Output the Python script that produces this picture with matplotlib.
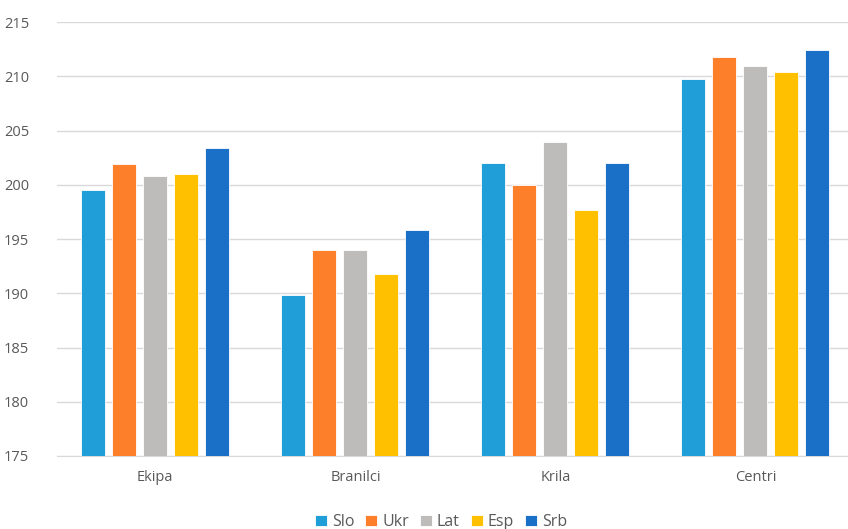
import numpy as np
import matplotlib.pyplot as plt

categories = ["Ekipa", "Branilci", "Krila", "Centri"]
series = ["Slo", "Ukr", "Lat", "Esp", "Srb"]
slo = [199.5, 189.8, 202.0, 209.8]
ukr = [201.9, 194.0, 200.0, 211.8]
lat = [200.8, 194.0, 204.0, 211.0]
esp = [201.0, 191.8, 197.7, 210.4]
srb = [203.4, 195.8, 202.0, 212.4]
colors = ["#1F9ED8", "#FE7F2A", "#BDBCBA", "#FFC000", "#1A70C6"]

plt.rcParams['font.family'] = ['Open Sans', 'DejaVu Sans']

fig = plt.figure(figsize=(8.48, 5.29), dpi=100)
ax = fig.add_axes([0.067, 0.138, 0.933, 0.82])

x = np.arange(len(categories))
width = 0.12
pitch = 0.155
for i, (name, vals) in enumerate(zip(series, [slo, ukr, lat, esp, srb])):
    ax.bar(x + (i - 2) * pitch, np.array(vals) - 175, width, bottom=175,
           color=colors[i], label=name, zorder=3, edgecolor="white", linewidth=0.6)

ax.set_xlim(-0.4925, 3.4625)
ax.set_ylim(175, 215)
ax.set_yticks(range(175, 216, 5))
ax.set_xticks(x)
ax.set_xticklabels(categories)
ax.yaxis.grid(True, color="#D9D9D9", linewidth=1, zorder=0)
for s in ["top", "right", "left"]:
    ax.spines[s].set_visible(False)
ax.spines["bottom"].set_color("#D9D9D9")
ax.tick_params(axis="both", length=0, colors="#595959", labelsize=10.5)
ax.tick_params(axis="y", pad=20)
ax.tick_params(axis="x", pad=10)

fig.legend(loc="center", bbox_to_anchor=(0.52, 0.013), ncol=5, frameon=False,
           fontsize=11.5, handlelength=0.75, handleheight=0.75, handletextpad=0.3,
           columnspacing=0.7, labelcolor="#595959")

fig.savefig("out.png", dpi=100)
